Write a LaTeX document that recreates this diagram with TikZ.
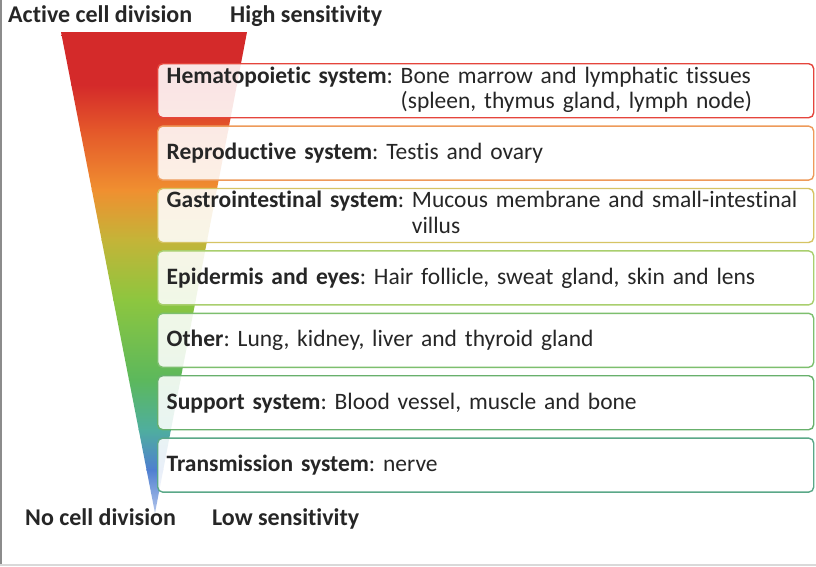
\documentclass[tikz,border=0pt]{standalone}
\usepackage{fontspec}
\setmainfont{Carlito}[RawFeature={-liga;-clig;-dlig;-calt}]
\usetikzlibrary{positioning}
\usepackage{xcolor}
\definecolor{ink}{HTML}{262626}
\definecolor{fa}{HTML}{D42A2A}
\definecolor{fb}{HTML}{E4572A}
\definecolor{fc}{HTML}{F08F30}
\definecolor{fd}{HTML}{C4B438}
\definecolor{fe}{HTML}{8DC63F}
\definecolor{ff}{HTML}{5CB85C}
\definecolor{fg}{HTML}{4FAE9E}
\definecolor{fh}{HTML}{4F7FD0}
\definecolor{fi}{HTML}{B4C6EC}
\definecolor{bxa}{HTML}{E5453C}
\definecolor{bxb}{HTML}{EE9A5A}
\definecolor{bxc}{HTML}{D6C464}
\definecolor{bxd}{HTML}{A9CF6E}
\definecolor{bxe}{HTML}{7DBF6E}
\definecolor{bxf}{HTML}{68B06C}
\definecolor{bxg}{HTML}{5AA888}
\newcommand{\organfont}{\fontsize{23.5}{25.5}\selectfont}
\newcommand{\tagfont}{\bfseries\fontsize{24}{26}\selectfont}
\tikzstyle{organ} = [rectangle, rounded corners=5pt, draw, line width=1.4pt,
                     fill=white, fill opacity=0.88, text opacity=1, text=ink,
                     minimum width=656pt, minimum height=54pt, text width=638pt,
                     align=left, inner xsep=9pt, inner ysep=1pt, font=\organfont]
\tikzstyle{tag}   = [anchor=base west, inner sep=0pt, text=ink, font=\tagfont]

\begin{document}
\frenchspacing
\begin{tikzpicture}[x=1pt, y=-1pt, node distance=7pt]
  \useasboundingbox (0,0) rectangle (816,566);
  \fill[white] (0,0) rectangle (816,566);
  \fill[gray!90] (0,0) rectangle (2.3,566);
  \fill[gray!30] (0,564) rectangle (816,566);

  % funnel
  \begin{scope}
    \clip (61,32) -- (247,32) -- (155,513) -- cycle;
    \foreach \ya/\yb/\ca/\cb in {31/85/fa/fa, 84.5/130/fa/fb, 129.5/190/fb/fc,
        189.5/240/fc/fd, 239.5/300/fd/fe, 299.5/380/fe/ff, 379.5/430/ff/fg,
        429.5/470/fg/fh, 469.5/514/fh/fi}
      \shade[top color=\ca, bottom color=\cb] (50,\ya) rectangle (260,\yb);
  \end{scope}

  \node (active)  [tag] at (8,22)    {Active cell division};
  \node (high)    [tag] at (230,22)  {High sensitivity};
  \node (nodiv)   [tag] at (25,525)  {No cell division};
  \node (low)     [tag] at (212,525) {Low sensitivity};

  \node (hemato)  [organ, draw=bxa, anchor=north west] at (157,63)
    {\textbf{Hematopoietic system}: \begin{tabular}[t]{@{}l@{}}Bone marrow and lymphatic tissues\\
     (spleen, thymus gland, lymph node)\end{tabular}};
  \node (repro)   [organ, draw=bxb, below=of hemato]
    {\textbf{Reproductive system}: Testis and ovary};
  \node (gastro)  [organ, draw=bxc, below=of repro]
    {\textbf{Gastrointestinal system}: \begin{tabular}[t]{@{}l@{}}Mucous membrane and small-intestinal\\
     villus\end{tabular}};
  \node (epider)  [organ, draw=bxd, below=of gastro]
    {\textbf{Epidermis and eyes}: Hair follicle, sweat gland, skin and lens};
  \node (other)   [organ, draw=bxe, below=of epider]
    {\textbf{Other}: Lung, kidney, liver and thyroid gland};
  \node (support) [organ, draw=bxf, below=of other]
    {\textbf{Support system}: Blood vessel, muscle and bone};
  \node (transm)  [organ, draw=bxg, below=of support]
    {\textbf{Transmission system}: nerve};
\end{tikzpicture}
\end{document}
